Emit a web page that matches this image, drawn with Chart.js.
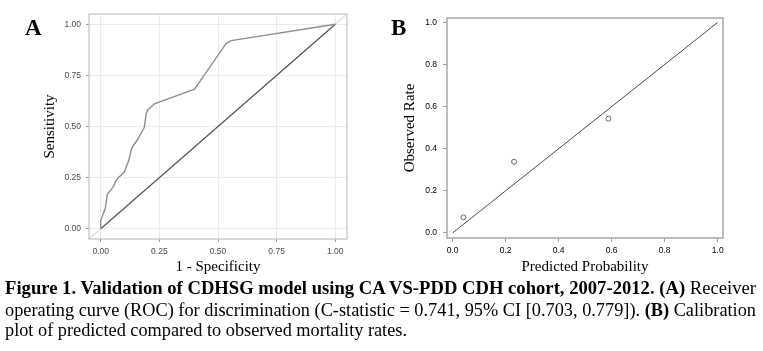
<!DOCTYPE html>
<html>
<head>
<meta charset="utf-8">
<script src="https://cdn.jsdelivr.net/npm/chart.js@4.4.1/dist/chart.umd.min.js"></script>
<style>
  body { margin: 0; background: #fff; width: 763px; height: 351px; overflow: hidden; position: relative; }
  canvas { position: absolute; top: 0; }
  #chartA { left: 0; }
  #chartB { left: 380px; }
  .panel { position: absolute; font: bold 23px "Liberation Serif", "Times New Roman", serif; line-height: 23px; }
  .cap { position: absolute; left: 5px; font: 18px "Liberation Serif", "Times New Roman", serif; line-height: 18px; white-space: nowrap; transform-origin: 0 0; }
  .cap b { font-weight: bold; }
</style>
</head>
<body>
<canvas id="chartA" width="380" height="280"></canvas>
<canvas id="chartB" width="383" height="280"></canvas>
<div class="panel" style="left:25px; top:16px;">A</div>
<div class="panel" style="left:391px; top:16px;">B</div>
<div class="cap" id="cap1" data-w="751" style="top:279px;"><b>Figure 1. Validation of CDHSG model using CA VS-PDD CDH cohort, 2007-2012. (A)</b> Receiver</div>
<div class="cap" id="cap2" data-w="751" style="top:301px;">operating curve (ROC) for discrimination (C-statistic = 0.741, 95% CI [0.703, 0.779]). <b>(B)</b> Calibration</div>
<div class="cap" id="cap3" data-w="402" style="top:321px;">plot of predicted compared to observed mortality rates.</div>
<script>
// ROC curve (panel A)
const rocFpr = [0, 0, 0.007, 0.019, 0.024, 0.028, 0.05, 0.057, 0.062, 0.072, 0.1, 0.119, 0.129, 0.133, 0.153, 0.186, 0.194, 0.2, 0.229, 0.4, 0.534, 0.556, 1];
const rocTpr = [0, 0.039, 0.063, 0.098, 0.137, 0.169, 0.2, 0.212, 0.23, 0.246, 0.277, 0.332, 0.38, 0.397, 0.429, 0.496, 0.565, 0.58, 0.611, 0.683, 0.905, 0.92, 1];
const rocTicks = [0, 0.25, 0.5, 0.75, 1];
const refLineA = [-0.05, 1.05];   // y = x, full panel
const chanceLine = [0, 1];

// calibration (panel B)
const predicted = [0.041, 0.232, 0.588];
const observed = [0.074, 0.338, 0.543];
const calTicks = [0, 0.2, 0.4, 0.6, 0.8, 1];

const serif = "'Liberation Serif', 'Times New Roman', serif";
const sans = "'Liberation Sans', Arial, sans-serif";

// draws the full box round the plot area
const boxPlugin = {
  id: 'box',
  afterDraw(chart, args, opts) {
    const { ctx, chartArea: a } = chart;
    ctx.save();
    ctx.strokeStyle = opts.color;
    ctx.lineWidth = opts.width;
    ctx.strokeRect(a.left, a.top, a.right - a.left, a.bottom - a.top);
    ctx.restore();
  }
};

const xy = (xs, ys) => xs.map((x, i) => ({ x: x, y: ys[i] }));

// PANEL A
new Chart(document.getElementById('chartA'), {
  type: 'scatter',
  data: {
    datasets: [
      { data: xy(refLineA, refLineA), showLine: true, borderColor: '#cfcfcf', borderWidth: 1, pointRadius: 0, order: 3 },
      { data: xy(chanceLine, chanceLine), showLine: true, borderColor: '#555', borderWidth: 1.2, pointRadius: 0, order: 2 },
      { data: xy(rocFpr, rocTpr), showLine: true, borderColor: '#8e8e8e', borderWidth: 1.4, pointRadius: 0, tension: 0, order: 1 }
    ]
  },
  options: {
    responsive: false, animation: false, devicePixelRatio: 1,
    layout: { padding: { top: 14, right: 33, left: 0, bottom: 0 } },
    plugins: { legend: { display: false }, tooltip: { enabled: false }, box: { color: '#b8b8b8', width: 1 } },
    scales: {
      x: {
        type: 'linear', min: -0.05, max: 1.05,
        afterBuildTicks: s => { s.ticks = rocTicks.map(v => ({ value: v })); },
        afterFit: s => { s.height = 41; },
        grid: { color: '#ebebeb', tickColor: '#9a9a9a', tickLength: 3 },
        border: { display: false },
        ticks: { color: '#4d4d4d', font: { family: sans, size: 8.5 }, padding: 5, maxRotation: 0, callback: v => v.toFixed(2) },
        title: { display: true, text: '1 - Specificity', color: '#000', font: { family: serif, size: 15 }, padding: { top: 0, bottom: 4 } }
      },
      y: {
        type: 'linear', min: -0.05, max: 1.05,
        afterBuildTicks: s => { s.ticks = rocTicks.map(v => ({ value: v })); },
        afterFit: s => { s.width = 89; },
        grid: { color: '#ebebeb', tickColor: '#9a9a9a', tickLength: 3 },
        border: { display: false },
        ticks: { color: '#4d4d4d', font: { family: sans, size: 8.5 }, padding: 5, callback: v => v.toFixed(2) },
        title: { display: true, text: 'Sensitivity', color: '#000', font: { family: serif, size: 15 }, padding: { top: 41, bottom: 0 } }
      }
    }
  },
  plugins: [boxPlugin]
});

// PANEL B
new Chart(document.getElementById('chartB'), {
  type: 'scatter',
  data: {
    datasets: [
      { data: xy(chanceLine, chanceLine), showLine: true, borderColor: '#4a4a4a', borderWidth: 1, pointRadius: 0 },
      { data: xy(predicted, observed), pointRadius: 2.5, pointBorderWidth: 1, pointBorderColor: '#666', pointBackgroundColor: 'rgba(0,0,0,0)' }
    ]
  },
  options: {
    responsive: false, animation: false, devicePixelRatio: 1,
    layout: { padding: { top: 18, right: 40, left: 0, bottom: 0 } },
    plugins: { legend: { display: false }, tooltip: { enabled: false }, box: { color: '#a8a8a8', width: 1.5 } },
    scales: {
      x: {
        type: 'linear', min: -0.021, max: 1.02,
        afterBuildTicks: s => { s.ticks = calTicks.map(v => ({ value: v })); },
        afterFit: s => { s.height = 42; },
        grid: { drawOnChartArea: false, tickColor: '#9a9a9a', tickLength: 4 },
        border: { display: false },
        ticks: { color: '#000', font: { family: sans, size: 8.5 }, padding: 4, maxRotation: 0, callback: v => v.toFixed(1) },
        title: { display: true, text: 'Predicted Probability', color: '#000', font: { family: serif, size: 15 }, padding: { top: 0, bottom: 4 } }
      },
      y: {
        type: 'linear', min: -0.024, max: 1.021,
        afterBuildTicks: s => { s.ticks = calTicks.map(v => ({ value: v })); },
        afterFit: s => { s.width = 67; },
        grid: { drawOnChartArea: false, tickColor: '#9a9a9a', tickLength: 4 },
        border: { display: false },
        ticks: { color: '#000', font: { family: sans, size: 8.5 }, padding: 6, callback: v => v.toFixed(1) },
        title: { display: true, text: 'Observed Rate', color: '#000', font: { family: serif, size: 15 }, padding: { top: 21, bottom: 0 } }
      }
    }
  },
  plugins: [boxPlugin]
});

// squeeze caption lines to the widths of the figure text
document.querySelectorAll('.cap').forEach(el => {
  const w = el.getBoundingClientRect().width;
  el.style.transform = 'scaleX(' + (Number(el.dataset.w) / w) + ')';
});
</script>
</body>
</html>
